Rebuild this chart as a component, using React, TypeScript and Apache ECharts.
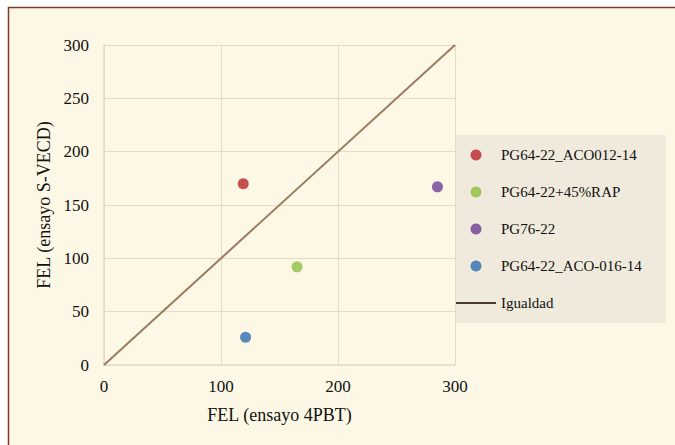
import React, { useEffect, useRef } from "react";
import * as echarts from "echarts";

const seriesNames = ["PG64-22_ACO012-14", "PG64-22+45%RAP", "PG76-22", "PG64-22_ACO-016-14"];
const seriesColors = ["#b8262b", "#8cbf45", "#6b3f96", "#2f6db0"];
const xValues = [119, 165, 285, 121];
const yValues = [170, 92, 167, 26];
const equalityName = "Igualdad";
const equalityLine = [[0, 0], [300, 300]];
const axisMin = 0;
const axisMax = 300;
const xInterval = 100;
const yInterval = 50;
const xTitle = "FEL (ensayo 4PBT)";
const yTitle = "FEL (ensayo S-VECD)";

const FONT = "'Liberation Serif', 'Times New Roman', serif";
const TEXT = "#111111";
const GRID = "#e4ddc3";

export default function App() {
  const ref = useRef<HTMLDivElement>(null);
  useEffect(() => {
    document.body.style.margin = "0";
    const chart = echarts.init(ref.current!, undefined, { renderer: "svg" });
    const scatter = seriesNames.map((n, i) => ({
      name: n,
      type: "scatter",
      data: [[xValues[i], yValues[i]]],
      symbol: "circle",
      symbolSize: 11,
      itemStyle: { color: seriesColors[i] },
      z: 3,
    }));
    chart.setOption({
      animation: false,
      backgroundColor: "#ffffff",
      graphic: [
        {
          type: "rect",
          z: -10,
          shape: { x: 8.5, y: 7.5, width: 700, height: 460 },
          style: { fill: "#fdf8e5", stroke: "#7b3a2d", lineWidth: 1.5 },
        },
        {
          type: "rect",
          z: -5,
          shape: { x: 456, y: 135, width: 210, height: 188 },
          style: { fill: "#efeadb" },
        },
      ],
      grid: { left: 104, right: 220, top: 45, bottom: 80, containLabel: false },
      xAxis: {
        type: "value",
        min: axisMin,
        max: axisMax,
        interval: xInterval,
        name: xTitle,
        nameLocation: "middle",
        nameGap: 41,
        nameTextStyle: { fontFamily: FONT, fontSize: 18, color: TEXT },
        axisLine: { show: true, lineStyle: { color: GRID, width: 1.5 } },
        axisTick: { show: false },
        axisLabel: { fontFamily: FONT, fontSize: 17, color: TEXT, margin: 13 },
        splitLine: { show: true, lineStyle: { color: GRID, width: 1 } },
      },
      yAxis: {
        type: "value",
        min: axisMin,
        max: axisMax,
        interval: yInterval,
        name: yTitle,
        nameLocation: "middle",
        nameGap: 46,
        nameTextStyle: { fontFamily: FONT, fontSize: 18, color: TEXT },
        axisLine: { show: true, lineStyle: { color: GRID, width: 1.5 } },
        axisTick: { show: false },
        axisLabel: { fontFamily: FONT, fontSize: 17, color: TEXT, margin: 15 },
        splitLine: { show: true, lineStyle: { color: GRID, width: 1 } },
      },
      legend: {
        orient: "vertical",
        left: 456,
        top: 147,
        itemWidth: 40,
        itemHeight: 11,
        itemGap: 21,
        padding: 0,
        data: [
          ...seriesNames,
          { name: equalityName, icon: "path://M0,0 L40,0 L40,2 L0,2 Z", itemStyle: { color: "#4a3a30" } },
        ],
        textStyle: { fontFamily: FONT, fontSize: 15, color: TEXT, lineHeight: 16 },
      },
      series: [
        ...scatter,
        {
          name: equalityName,
          type: "line",
          data: equalityLine,
          symbol: "none",
          lineStyle: { color: "#9a7a60", width: 2 },
          itemStyle: { color: "#4a3a30" },
          z: 2,
        },
      ],
    });
    return () => chart.dispose();
  }, []);
  return <div ref={ref} style={{ width: 675, height: 445 }} />;
}
